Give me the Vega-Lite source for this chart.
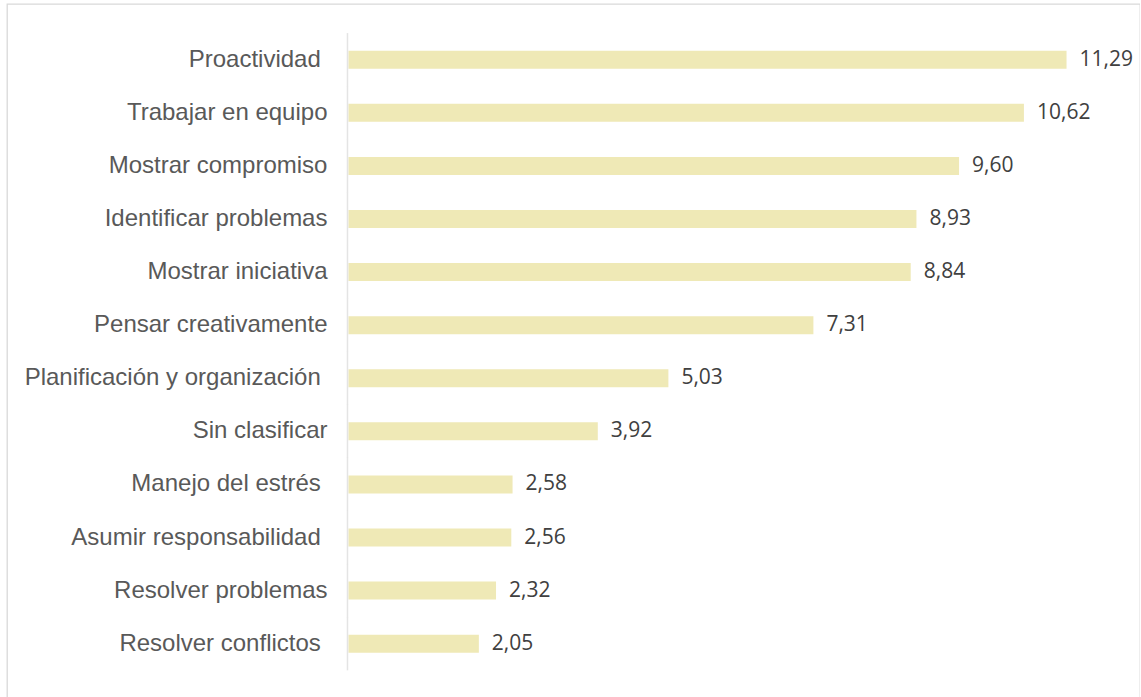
{
  "$schema": "https://vega.github.io/schema/vega-lite/v6.json",
  "autosize": "none",
  "padding": {"left": 7, "top": 4, "right": 0, "bottom": 0},
  "width": 1133,
  "height": 700,
  "background": "#ffffff",
  "config": {
    "view": {"stroke": "#D9D9D9", "strokeWidth": 1.3},
    "locale": {"number": {"decimal": ",", "thousands": ".", "grouping": [3], "currency": ["", " €"]}}
  },
  "data": {
    "values": [
      {"cat": "Proactividad\u00a0\u200b", "value": 11.29},
      {"cat": "Trabajar en equipo", "value": 10.62},
      {"cat": "Mostrar compromiso", "value": 9.60},
      {"cat": "Identificar problemas", "value": 8.93},
      {"cat": "Mostrar iniciativa", "value": 8.84},
      {"cat": "Pensar creativamente", "value": 7.31},
      {"cat": "Planificación y organización\u00a0\u200b", "value": 5.03},
      {"cat": "Sin clasificar", "value": 3.92},
      {"cat": "Manejo del estrés\u00a0\u200b", "value": 2.58},
      {"cat": "Asumir responsabilidad\u00a0\u200b", "value": 2.56},
      {"cat": "Resolver problemas", "value": 2.32},
      {"cat": "Resolver conflictos\u00a0\u200b", "value": 2.05}
    ]
  },
  "encoding": {
    "y": {
      "field": "cat",
      "type": "nominal",
      "sort": null,
      "axis": null,
      "scale": {"paddingInner": 0.661, "paddingOuter": 0.923, "align": 0.4766}
    }
  },
  "layer": [
    {
      "mark": {"type": "bar", "color": "#EFE9B6"},
      "encoding": {
        "x": {
          "field": "value",
          "type": "quantitative",
          "axis": null,
          "scale": {"domain": [-5.369, 12.445], "nice": false, "zero": false}
        }
      }
    },
    {
      "mark": {"type": "tick", "color": "#D9D9D9", "size": 53.3, "thickness": 1.5, "xOffset": -1},
      "encoding": {"x": {"datum": 0, "type": "quantitative"}}
    },
    {
      "mark": {"type": "text", "align": "right", "baseline": "middle", "dx": -21, "font": "Liberation Sans", "fontSize": 24, "color": "#595959"},
      "encoding": {
        "x": {"datum": 0, "type": "quantitative"},
        "text": {"field": "cat"}
      }
    },
    {
      "mark": {"type": "text", "align": "left", "baseline": "middle", "dx": 13, "font": "Open Sans", "fontSize": 21, "color": "#404040"},
      "encoding": {
        "x": {"field": "value", "type": "quantitative"},
        "text": {"field": "value", "format": ".2f"}
      }
    }
  ]
}
